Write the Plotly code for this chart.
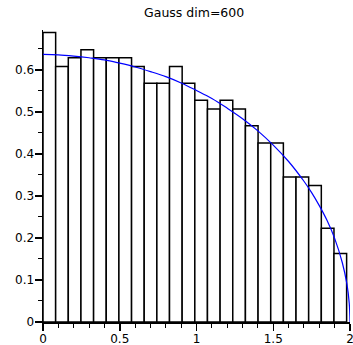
import plotly.graph_objects as go

# Histogram of eigenvalues (density), 24 bins from 0 to the max eigenvalue
bin_max = 1.978
bar_heights = [0.689, 0.608, 0.629, 0.648, 0.629, 0.629, 0.629, 0.608,
               0.568, 0.568, 0.608, 0.568, 0.528, 0.507, 0.528, 0.507,
               0.467, 0.426, 0.426, 0.345, 0.345, 0.325, 0.223, 0.163]

# Blue reference curve
curve_x = [0, 0.1, 0.2, 0.3, 0.4, 0.5, 0.6, 0.7, 0.8, 0.9, 1.0, 1.1, 1.2,
           1.3, 1.4, 1.5, 1.6, 1.7, 1.75, 1.8, 1.85, 1.9, 1.95, 1.98, 1.995, 2.0]
curve_y = [0.637, 0.636, 0.633, 0.629, 0.624, 0.616, 0.607, 0.596, 0.584,
           0.569, 0.551, 0.532, 0.509, 0.484, 0.455, 0.421, 0.382, 0.335,
           0.308, 0.277, 0.242, 0.199, 0.141, 0.090, 0.045, 0.0]

title_text = "Gauss dim=600"

n_bins = len(bar_heights)
width = bin_max / n_bins
centers = [(i + 0.5) * width for i in range(n_bins)]

fig = go.Figure()
fig.add_trace(go.Bar(
    x=centers, y=bar_heights, width=width,
    marker=dict(color="white", line=dict(color="black", width=1.5)),
    showlegend=False, hoverinfo="skip",
))
fig.add_trace(go.Scatter(
    x=curve_x, y=curve_y, mode="lines",
    line=dict(color="blue", width=1.2, shape="spline"),
    showlegend=False, cliponaxis=False, hoverinfo="skip",
))

font = dict(family="DejaVu Sans", size=12, color="black")
fig.update_layout(
    width=353, height=345,
    margin=dict(l=43, r=3, t=30, b=23, autoexpand=False),
    plot_bgcolor="white", paper_bgcolor="white",
    font=font,
    bargap=0,
    title=dict(text=title_text, x=0.55, xanchor="center", y=0.964, yanchor="middle",
               font=dict(family="DejaVu Sans", size=12.5, color="black")),
    xaxis=dict(range=[0, 2], showgrid=False, zeroline=False, showline=True,
               linecolor="black", linewidth=1.5, ticks="outside", ticklen=7,
               tickcolor="black", tickwidth=1.5, tickvals=[0, 0.5, 1, 1.5, 2],
               ticktext=["0", "0.5", "1", "1.5", "2"], ticklabeloverflow="allow",
               ticklabelstandoff=-2,
               minor=dict(dtick=0.1, tick0=0, ticks="outside", ticklen=4,
                          tickcolor="black", tickwidth=1, showgrid=False)),
    yaxis=dict(range=[0, 0.695], showgrid=False, zeroline=False, showline=True,
               linecolor="black", linewidth=1.5, ticks="outside", ticklen=7,
               tickcolor="black", tickwidth=1.5, ticklabeloverflow="allow",
               ticklabelstandoff=-2,
               tickvals=[0, 0.1, 0.2, 0.3, 0.4, 0.5, 0.6],
               ticktext=["0", "0.1", "0.2", "0.3", "0.4", "0.5", "0.6"],
               minor=dict(dtick=0.05, tick0=0, ticks="outside", ticklen=4,
                          tickcolor="black", tickwidth=1, showgrid=False)),
)

fig.write_html(
    "out.html",
    config={"displayModeBar": False, "staticPlot": True},
    post_script="document.body.style.margin='0';document.body.style.overflow='hidden';",
)
